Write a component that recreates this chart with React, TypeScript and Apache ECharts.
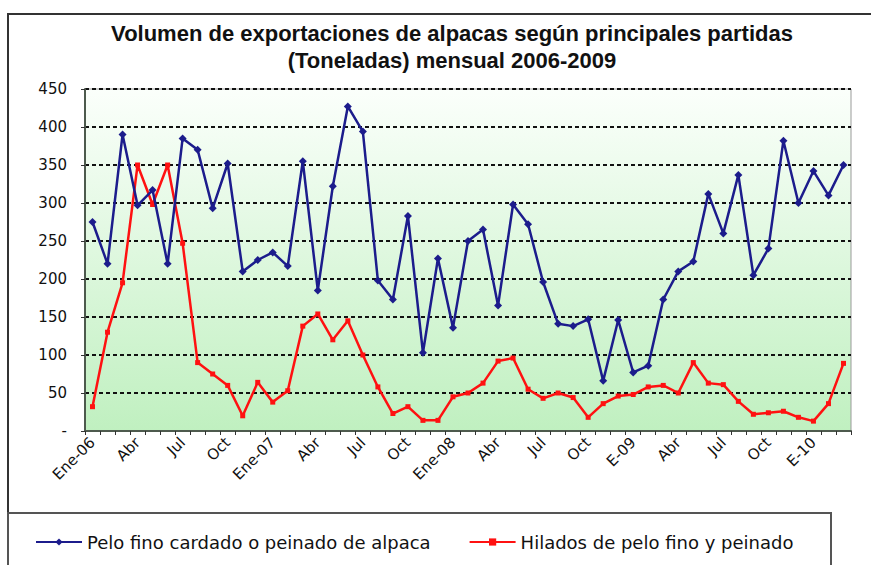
import React, { useEffect, useRef } from "react";
import * as echarts from "echarts";

const categories = [
  "Ene-06", "Feb", "Mar", "Abr", "May", "Jun", "Jul", "Ago", "Sep", "Oct", "Nov", "Dic",
  "Ene-07", "Feb", "Mar", "Abr", "May", "Jun", "Jul", "Ago", "Sep", "Oct", "Nov", "Dic",
  "Ene-08", "Feb", "Mar", "Abr", "May", "Jun", "Jul", "Ago", "Sep", "Oct", "Nov", "Dic",
  "E-09", "Feb", "Mar", "Abr", "May", "Jun", "Jul", "Ago", "Sep", "Oct", "Nov", "Dic",
  "E-10", "Feb", "Mar",
];

const peloFino = [
  275, 220, 390, 297, 317, 220, 385, 370, 293, 352,
  210, 225, 235, 217, 355, 185, 322, 427, 394, 198,
  173, 283, 103, 227, 136, 250, 265, 165, 298, 272,
  196, 141, 138, 147, 66, 146, 77, 86, 173, 210,
  223, 312, 260, 337, 205, 240, 382, 300, 342, 310, 350,
];

const hilados = [
  32, 130, 195, 350, 298, 350, 247, 90, 75, 60,
  20, 64, 38, 53, 138, 154, 120, 145, 100, 58,
  23, 32, 14, 14, 45, 50, 63, 92, 96, 55,
  43, 50, 44, 18, 36, 46, 48, 58, 60, 50,
  90, 63, 61, 39, 22, 24, 26, 18, 13, 36, 89,
];

const seriesNames = [
  "Pelo fino cardado o peinado de alpaca",
  "Hilados de pelo fino y peinado",
];

const titleLines = [
  "Volumen de exportaciones de alpacas según principales partidas",
  "(Toneladas) mensual 2006-2009",
];

export default function App() {
  const ref = useRef<HTMLDivElement>(null);
  useEffect(() => {
    if (!ref.current) return;
    const chart = echarts.init(ref.current, undefined, { renderer: "svg" });
    const labelFont = "DejaVu Sans, Verdana, sans-serif";
    chart.setOption({
      animation: false,
      backgroundColor: "#ffffff",
      title: {
        text: titleLines.join("\n"),
        left: 447,
        top: 15,
        textAlign: "center",
        textStyle: {
          fontSize: 22,
          fontWeight: "bold",
          fontFamily: "Liberation Sans Narrow, Arial Narrow, Liberation Sans, sans-serif",
          color: "#111",
          lineHeight: 27,
        },
      },
      graphic: [
        {
          type: "rect",
          shape: { x: 8, y: 14, width: 864, height: 570 },
          style: { fill: "none", stroke: "#333", lineWidth: 2 },
          silent: true,
          z: -1,
        },
        {
          type: "rect",
          shape: { x: 8, y: 513, width: 823, height: 70 },
          style: { fill: "#fff", stroke: "#555", lineWidth: 2 },
          silent: true,
          z: -1,
        },
      ],
      legend: {
        left: 30,
        top: 528,
        itemWidth: 46,
        itemHeight: 9,
        itemGap: 38,
        textStyle: { fontSize: 18, fontFamily: labelFont, color: "#111" },
        data: seriesNames,
      },
      grid: {
        left: 85,
        right: 20,
        top: 89,
        bottom: 134,
        show: true,
        backgroundColor: new echarts.graphic.LinearGradient(0, 0, 0, 1, [
          { offset: 0, color: "#fbfffb" },
          { offset: 1, color: "#c0f0c0" },
        ]),
        borderColor: "#9a9a9a",
        borderWidth: 1,
      },
      xAxis: {
        type: "category",
        data: categories,
        boundaryGap: true,
        axisLine: { show: true, lineStyle: { color: "#4d5a4d", width: 2 } },
        axisTick: { show: true, interval: 0, length: 4, lineStyle: { color: "#333" } },
        axisLabel: {
          interval: 2,
          rotate: 45,
          fontSize: 15,
          margin: 9,
          fontFamily: labelFont,
          color: "#111",
        },
        splitLine: { show: false },
      },
      yAxis: {
        type: "value",
        min: 0,
        max: 450,
        interval: 50,
        axisLine: { show: true, lineStyle: { color: "#4d5a4d", width: 2 } },
        axisTick: { show: true, length: 4, lineStyle: { color: "#333" } },
        axisLabel: {
          fontSize: 15,
          margin: 18,
          fontFamily: labelFont,
          color: "#111",
          formatter: (v: number) => (v === 0 ? "-" : String(v)),
        },
        splitLine: {
          show: true,
          lineStyle: { color: "#111", width: 2, type: [4, 3] },
        },
      },
      series: [
        {
          name: seriesNames[0],
          type: "line",
          data: peloFino,
          symbol: "diamond",
          symbolSize: 8,
          itemStyle: { color: "#1c1c8c" },
          lineStyle: { color: "#1c1c8c", width: 2.5 },
          z: 3,
        },
        {
          name: seriesNames[1],
          type: "line",
          data: hilados,
          symbol: "rect",
          symbolSize: 5,
          itemStyle: { color: "#ff1111" },
          lineStyle: { color: "#ff1111", width: 2.5 },
          z: 2,
        },
      ],
    });
    return () => chart.dispose();
  }, []);
  return (
    <div
      ref={ref}
      style={{ position: "absolute", left: 0, top: 0, width: 871, height: 565 }}
    />
  );
}
